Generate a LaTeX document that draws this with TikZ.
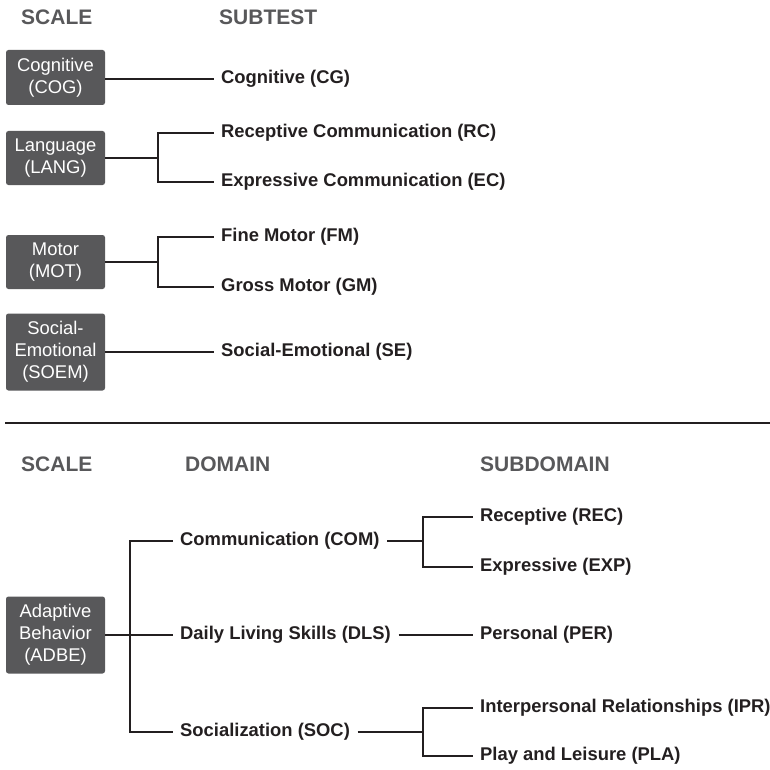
\documentclass[tikz,border=0pt]{standalone}
\usepackage{fontspec}
\setmainfont{Liberation Sans}
\definecolor{boxgray}{HTML}{58585A}
\definecolor{headgray}{HTML}{58585A}
\definecolor{ink}{HTML}{231F20}
\begin{document}
\begin{tikzpicture}[x=1pt,y=-1pt,
  scalebox/.style={fill=boxgray, rounded corners=2.5pt, text=white, align=center,
    minimum width=99pt, inner sep=0pt, font=\fontsize{18.4}{22}\selectfont},
  lbl/.style={anchor=west, inner xsep=7.5pt, inner ysep=0pt, text=ink,
    font=\fontsize{18.4}{22}\selectfont\bfseries},
  head/.style={anchor=west, inner sep=0pt, text=headgray,
    font=\fontsize{21}{24}\selectfont\bfseries},
  conn/.style={draw=ink, line width=1.2pt}]
\useasboundingbox (0,0) rectangle (770,770);

% headings
\node[head] (h1) at (21,17) {SCALE};
\node[head] (h2) at (219,17) {SUBTEST};
\node[head] (h3) at (21,464) {SCALE};
\node[head] (h4) at (185,464) {DOMAIN};
\node[head] (h5) at (480,464) {SUBDOMAIN};

% top section boxes
\node[scalebox, minimum height=55pt] (cog) at (55.5,77.5) {Cognitive\\(COG)};
\node[scalebox, minimum height=54pt] (lang) at (55.5,158) {Language\\(LANG)};
\node[scalebox, minimum height=54pt] (mot) at (55.5,262) {Motor\\(MOT)};
\node[scalebox, minimum height=77pt] (soem) at (55.5,352) {Social-\\Emotional\\(SOEM)};

% top labels
\node[lbl] (cg) at (213.5,79) {Cognitive (CG)};
\node[lbl] (rc) at (213.5,133) {Receptive Communication (RC)};
\node[lbl] (ec) at (213.5,182) {Expressive Communication (EC)};
\node[lbl] (fm) at (213.5,237) {Fine Motor (FM)};
\node[lbl] (gm) at (213.5,287) {Gross Motor (GM)};
\node[lbl] (se) at (213.5,352) {Social-Emotional (SE)};

\coordinate (langfork) at (158,158);
\coordinate (motfork) at (158,262);

\draw[conn] (cog.east |- cg.west) -- (cg.west);
\draw[conn] (lang.east) -- (langfork);
\draw[conn] (rc.west) -| (langfork) |- (ec.west);
\draw[conn] (mot.east) -- (motfork);
\draw[conn] (fm.west) -| (motfork) |- (gm.west);
\draw[conn] (soem.east) -- (se.west);

% separator
\draw[draw=ink, line width=1.8pt] (5,423) -- (770,423);

% bottom section
\node[scalebox, minimum height=77pt] (adbe) at (55.5,635) {Adaptive\\Behavior\\(ADBE)};

\node[lbl] (com) at (172.5,541) {Communication (COM)};
\node[lbl] (dls) at (172.5,635) {Daily Living Skills (DLS)};
\node[lbl] (soc) at (172.5,732) {Socialization (SOC)};

\node[lbl] (rec) at (472.5,517) {Receptive (REC)};
\node[lbl] (exp) at (472.5,567) {Expressive (EXP)};
\node[lbl] (per) at (472.5,635) {Personal (PER)};
\node[lbl] (ipr) at (472.5,708) {Interpersonal Relationships (IPR)};
\node[lbl] (pla) at (472.5,756) {Play and Leisure (PLA)};

\coordinate (adfork) at (130,635);
\coordinate (comfork) at (423,541);
\coordinate (socfork) at (423,732);

\draw[conn] (adbe.east) -- (dls.west);
\draw[conn] (com.west) -| (adfork) |- (soc.west);
\draw[conn] (com.east) -- (comfork);
\draw[conn] (rec.west) -| (comfork) |- (exp.west);
\draw[conn] (dls.east) -- (per.west);
\draw[conn] (soc.east) -- (socfork);
\draw[conn] (ipr.west) -| (socfork) |- (pla.west);
\end{tikzpicture}
\end{document}
